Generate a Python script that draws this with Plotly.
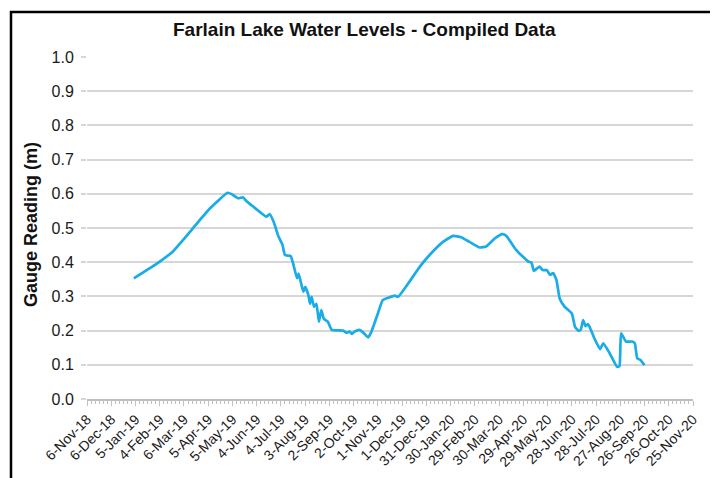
import plotly.graph_objects as go

dates = [
    "2019-01-03", "2019-01-31", "2019-02-21", "2019-03-05", "2019-03-18", "2019-04-07", "2019-04-29",
    "2019-05-04", "2019-05-12", "2019-05-18", "2019-05-21", "2019-05-31", "2019-06-16",
    "2019-06-20", "2019-06-25", "2019-07-01", "2019-07-06", "2019-07-09", "2019-07-16",
    "2019-07-19", "2019-07-24", "2019-07-26", "2019-07-30", "2019-08-01", "2019-08-03",
    "2019-08-07", "2019-08-09", "2019-08-11", "2019-08-14", "2019-08-17", "2019-08-20",
    "2019-08-23", "2019-08-26", "2019-08-31", "2019-09-05", "2019-09-19", "2019-09-23",
    "2019-09-27", "2019-09-30", "2019-10-03", "2019-10-09", "2019-10-14", "2019-10-20",
    "2019-10-24", "2019-11-01", "2019-11-07", "2019-11-15", "2019-11-22", "2019-11-26",
    "2019-12-10", "2019-12-23", "2020-01-04", "2020-01-21", "2020-02-02", "2020-02-12",
    "2020-02-22", "2020-03-06", "2020-03-14", "2020-03-25", "2020-04-03", "2020-04-08",
    "2020-04-20", "2020-05-05", "2020-05-09", "2020-05-12", "2020-05-16", "2020-05-19",
    "2020-05-23", "2020-05-28", "2020-06-01", "2020-06-05", "2020-06-09", "2020-06-13",
    "2020-06-19", "2020-06-28", "2020-07-02", "2020-07-06", "2020-07-09", "2020-07-12",
    "2020-07-15", "2020-07-18", "2020-07-20", "2020-07-26", "2020-08-02", "2020-08-06",
    "2020-08-14", "2020-08-23", "2020-08-26", "2020-08-28", "2020-09-03", "2020-09-11",
    "2020-09-14", "2020-09-17", "2020-09-21", "2020-09-26",
]
levels = [
    0.353, 0.395, 0.433, 0.465, 0.502, 0.557, 0.603,
    0.599, 0.587, 0.590, 0.582, 0.562, 0.533,
    0.541, 0.518, 0.475, 0.450, 0.421, 0.418,
    0.397, 0.353, 0.367, 0.328, 0.314, 0.328,
    0.304, 0.279, 0.299, 0.270, 0.278, 0.226,
    0.260, 0.235, 0.226, 0.202, 0.200, 0.194,
    0.197, 0.190, 0.197, 0.202, 0.194, 0.180,
    0.197, 0.250, 0.289, 0.297, 0.302, 0.299,
    0.343, 0.387, 0.421, 0.460, 0.477, 0.473,
    0.460, 0.443, 0.446, 0.470, 0.482, 0.477,
    0.436, 0.402, 0.399, 0.375, 0.382, 0.387,
    0.377, 0.377, 0.363, 0.368, 0.348, 0.294,
    0.270, 0.250, 0.211, 0.200, 0.202, 0.231,
    0.213, 0.219, 0.211, 0.177, 0.146, 0.163,
    0.133, 0.094, 0.096, 0.192, 0.168, 0.168,
    0.163, 0.119, 0.114, 0.099,
]

title_text = "Farlain Lake Water Levels - Compiled Data"
y_title = "Gauge Reading (m)"
x_start = "2018-11-06"
x_end = "2020-11-25"
DAY_MS = 86400000

# page body has an 8px margin; work in window pixels and shift
OFF = 8
W, H = 718, 478
plot_left, plot_right, plot_top, plot_bottom = 87, 693, 57, 399  # window px
L = plot_left - OFF
T = plot_top - OFF
R = W - (plot_right - OFF)
B = H - (plot_bottom - OFF)
pw, ph = W - L - R, H - T - B

def px(x):
    return (x - OFF - L) / pw

def py(y):
    return (H - B - (y - OFF)) / ph

fig = go.Figure()
fig.add_trace(go.Scatter(
    x=dates, y=levels, mode="lines",
    line=dict(color="#1AACE6", width=2.7, shape="spline", smoothing=0.4),
    showlegend=False, hoverinfo="x+y",
))

font = "Liberation Sans, Arial, sans-serif"
fig.update_layout(
    width=W, height=H,
    margin=dict(l=L, r=R, t=T, b=B),
    paper_bgcolor="white", plot_bgcolor="white",
    font=dict(family=font, color="#000000"),
    xaxis=dict(
        type="date", range=[x_start, x_end],
        tick0=x_start, dtick=30 * DAY_MS, tickformat="%-d-%b-%y",
        tickangle=-45, tickfont=dict(size=14, color="#1a1a1a"),
        showgrid=False, zeroline=False,
        showline=True, linecolor="#bfbfbf", linewidth=1.5,
        ticks="outside", ticklen=5, tickcolor="#bfbfbf",
        minor=dict(dtick=5 * DAY_MS, tick0=x_start, ticks="outside", ticklen=3,
                   tickcolor="#bfbfbf", showgrid=False),
        fixedrange=True,
    ),
    yaxis=dict(
        range=[0, 1.0], dtick=0.1, tick0=0, tickformat=".1f",
        tickfont=dict(size=16, color="#1a1a1a"),
        showgrid=True, gridcolor="#d6d6d6", gridwidth=2,
        zeroline=False, showline=False,
        ticks="outside", ticklen=5, tickcolor="#d6d6d6", tickwidth=2,
        ticklabelstandoff=4,
        fixedrange=True,
    ),
    annotations=[
        dict(text="<b>" + title_text + "</b>", x=px(364), y=py(30), xref="paper", yref="paper",
             showarrow=False, font=dict(size=19, family=font, color="#111111"),
             xanchor="center", yanchor="middle"),
        dict(text="<b>" + y_title + "</b>", x=px(31), y=py(225), xref="paper", yref="paper",
             showarrow=False, textangle=-90, font=dict(size=18, family=font, color="#111111"),
             xanchor="center", yanchor="middle"),
    ],
    shapes=[
        dict(type="rect", xref="paper", yref="paper",
             x0=px(11), x1=px(760), y0=py(520), y1=py(12),
             line=dict(color="black", width=2.5), fillcolor="rgba(0,0,0,0)", layer="above"),
    ],
)

fig.write_html("out.html")
